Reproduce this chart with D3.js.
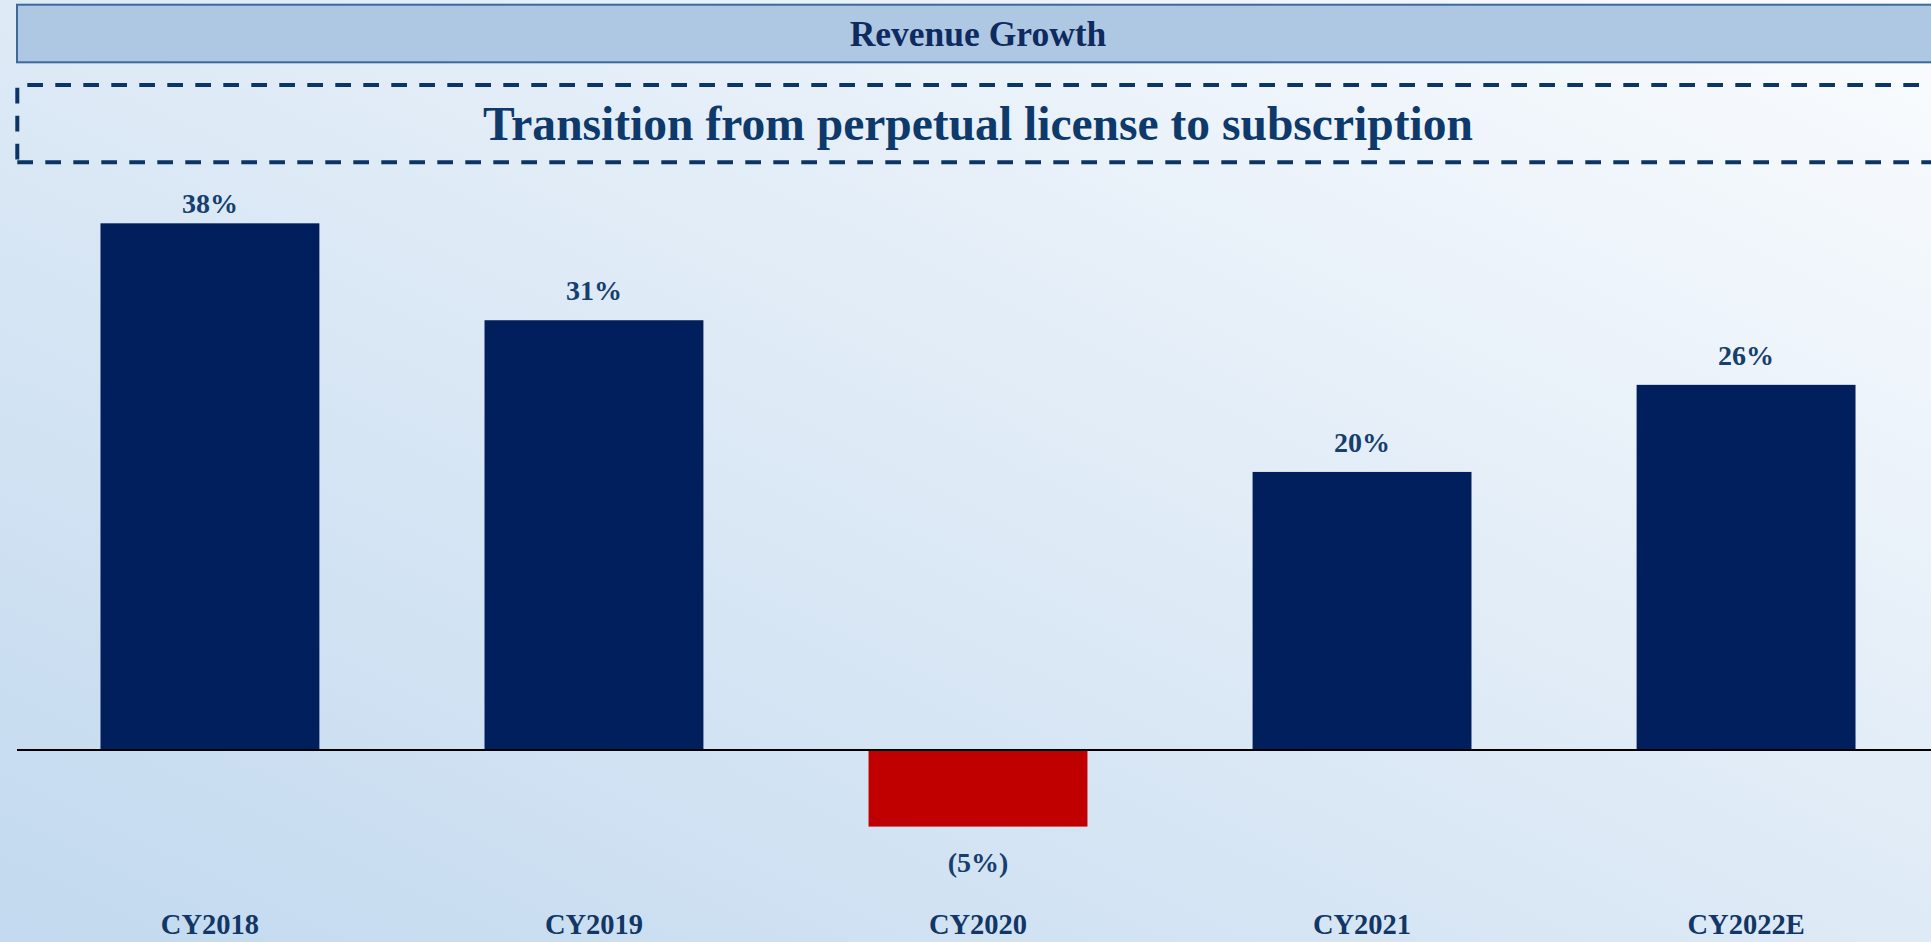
<!DOCTYPE html>
<html>
<head>
<meta charset="utf-8">
<script src="https://cdn.jsdelivr.net/npm/d3@7"></script>
<style>
  html, body { margin: 0; padding: 0; overflow: hidden; }
  svg { display: block; }
  text { font-family: "Liberation Serif", "Times New Roman", serif; font-weight: bold; }
</style>
</head>
<body>
<script>
// ---- data ----
const categories = ["CY2018", "CY2019", "CY2020", "CY2021", "CY2022E"];
const growth = [37.5, 30.6, -5.45, 19.8, 26.0];
const valueLabels = ["38%", "31%", "(5%)", "20%", "26%"];
const headerText = "Revenue Growth";
const titleText = "Transition from perpetual license to subscription";

// ---- layout ----
const W = 1931, H = 942;
const svg = d3.select("body").append("svg").attr("width", W).attr("height", H);

const defs = svg.append("defs");
const grad = defs.append("linearGradient").attr("id", "bg")
  .attr("x1", 0).attr("y1", 1).attr("x2", 1).attr("y2", 0);
grad.append("stop").attr("offset", "0%").attr("stop-color", "#c2d9ef");
grad.append("stop").attr("offset", "50%").attr("stop-color", "#deeaf6");
grad.append("stop").attr("offset", "100%").attr("stop-color", "#fafcfe");
svg.append("rect").attr("width", W).attr("height", H).attr("fill", "url(#bg)");

// header band
svg.append("rect").attr("x", 17).attr("y", 4.7).attr("width", W).attr("height", 57.6)
  .attr("fill", "#aec7e2").attr("stroke", "#3d6a9b").attr("stroke-width", 2);
svg.append("text").attr("x", 978).attr("y", 45.5).attr("text-anchor", "middle")
  .attr("font-size", 35.5).attr("fill", "#0f2a5f").text(headerText);

// dashed box
const dashColor = "#0b3567";
const dash = "15.7 12.3";
svg.append("line").attr("x1", 17.3).attr("y1", 85).attr("x2", W + 10).attr("y2", 85)
  .attr("stroke", dashColor).attr("stroke-width", 4).attr("stroke-dasharray", dash).attr("stroke-dashoffset", 18);
svg.append("line").attr("x1", 17.3).attr("y1", 85).attr("x2", 17.3).attr("y2", 162.3)
  .attr("stroke", dashColor).attr("stroke-width", 4).attr("stroke-dasharray", dash).attr("stroke-dashoffset", 25.3);
svg.append("line").attr("x1", 17.3).attr("y1", 162.3).attr("x2", W + 10).attr("y2", 162.3)
  .attr("stroke", dashColor).attr("stroke-width", 4).attr("stroke-dasharray", dash).attr("stroke-dashoffset", 0);

const title = svg.append("text").attr("x", 978).attr("y", 140).attr("text-anchor", "middle")
  .attr("font-size", 40).attr("fill", "#0d3a6b").text(titleText);
const tw = title.node().getComputedTextLength();
title.attr("font-size", 40 * 990 / tw);

// ---- scales ----
const x = d3.scaleBand().domain(categories).range([17, 1939])
  .paddingInner(0.43).paddingOuter(0.2174);
const y = d3.scaleLinear().domain([-10, 40]).range([890.5, 188.2]);

const data = categories.map((c, i) => ({ c, v: growth[i], label: valueLabels[i] }));

// bars
svg.append("g").selectAll("rect").data(data).join("rect")
  .attr("x", d => x(d.c))
  .attr("width", x.bandwidth())
  .attr("y", d => Math.min(y(d.v), y(0)))
  .attr("height", d => Math.abs(y(d.v) - y(0)))
  .attr("fill", d => d.v < 0 ? "#c00000" : "#001f5c");

// zero line
svg.append("line").attr("x1", 17).attr("x2", W).attr("y1", y(0)).attr("y2", y(0))
  .attr("stroke", "#000").attr("stroke-width", 2);

// value labels
const plotTop = 213;
svg.append("g").selectAll("text").data(data).join("text")
  .attr("x", d => x(d.c) + x.bandwidth() / 2)
  .attr("y", d => d.v >= 0 ? Math.max(y(d.v) - 20, plotTop) : y(d.v) + 45)
  .attr("text-anchor", "middle").attr("font-size", 28).attr("fill", "#173f6e")
  .text(d => d.label);

// category axis
const axis = svg.append("g").attr("transform", "translate(0,934)")
  .call(d3.axisBottom(x).tickSize(0).tickPadding(0));
axis.select(".domain").remove();
axis.selectAll("text").attr("dy", 0).attr("font-size", 28.5).attr("fill", "#123766")
  .style("font-family", "'Liberation Serif', serif").style("font-weight", "bold");
</script>
</body>
</html>
